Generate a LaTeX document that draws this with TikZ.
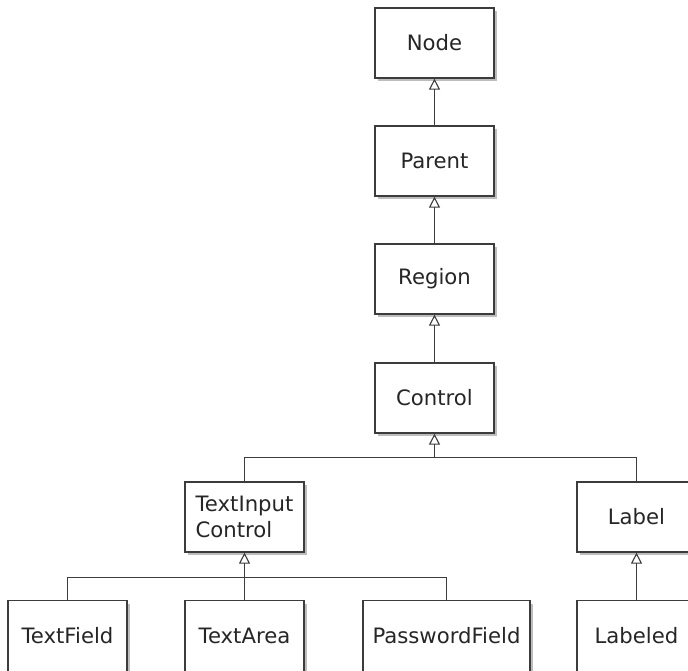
\documentclass[tikz,border=0pt]{standalone}
\usepackage{fontspec}
\setmainfont{DejaVu Sans}
\usetikzlibrary{shadows,arrows.meta}
\definecolor{lc}{HTML}{3C3C3C}
\definecolor{tc}{HTML}{262626}
\definecolor{sc}{HTML}{BDBDBD}
\begin{document}
\begin{tikzpicture}[x=1pt,y=-1pt,
  cls/.style={draw=lc, line width=1.2pt, fill=white, text=tc,
    minimum width=119pt, minimum height=70pt, inner sep=0pt,
    font=\fontsize{21.2}{26}\selectfont,
    drop shadow={shadow xshift=3pt, shadow yshift=-3pt, fill=sc, opacity=1}},
  low/.style={cls, anchor=north, minimum height=80pt, text height=15pt, text depth=10pt},
  conn/.style={draw=lc, line width=1.2pt},
  gen/.style={conn, -{Triangle[open, length=11pt, width=11pt, line width=1.1pt]}}]
\useasboundingbox (0,0) rectangle (688,670);
\fill[white] (0,0) rectangle (688,670);
\node[cls] (node) at (434.5,43) {Node};
\node[cls] (parent) at (434.5,161) {Parent};
\node[cls] (region) at (434.5,279) {Region};
\node[cls] (control) at (434.5,398) {Control};
\node[cls, align=left] (tic) at (244.5,517) {TextInput\\Control};
\node[cls] (label) at (636.5,517) {Label};
\node[low] (tf) at (67.5,600) {TextField};
\node[low] (ta) at (244.5,600) {TextArea};
\node[low, minimum width=167pt] (pf) at (446.5,600) {PasswordField};
\node[low] (lbd) at (636.5,600) {Labeled};
\draw[gen] (parent.north) -- (node.south);
\draw[gen] (region.north) -- (parent.south);
\draw[gen] (control.north) -- (region.south);
\coordinate (j1) at (434.5,457.5);
\draw[conn] (tic.north) |- (j1) -| (label.north);
\draw[gen] (j1) -- (control.south);
\coordinate (j2) at (244.5,577.5);
\draw[conn] (tf.north) |- (j2) -| (pf.north);
\draw[conn] (ta.north) -- (j2);
\draw[gen] (j2) -- (tic.south);
\draw[gen] (lbd.north) -- (label.south);
\end{tikzpicture}
\end{document}
